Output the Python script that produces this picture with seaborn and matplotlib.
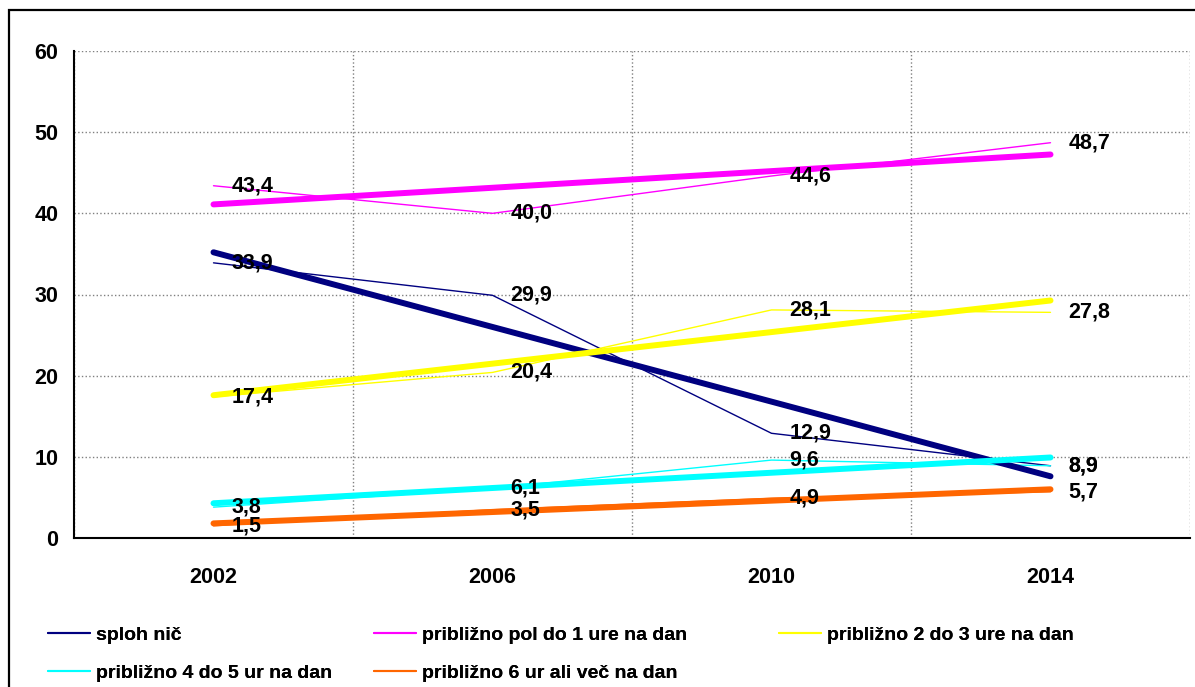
import numpy as np
import pandas as pd
import seaborn as sns
import matplotlib.pyplot as plt
from matplotlib.patches import Rectangle

years = ['2002', '2006', '2010', '2014']
series_names = [
  'sploh nič',
  'približno pol do 1 ure na dan',
  'približno 2 do 3 ure na dan',
  'približno 4 do 5 ur na dan',
  'približno 6 ur ali več na dan',
]
sploh_nic = [33.9, 29.9, 12.9, 8.9]
pol_do_1 = [43.4, 40.0, 44.6, 48.7]
od_2_do_3 = [17.4, 20.4, 28.1, 27.8]
od_4_do_5 = [3.8, 6.1, 9.6, 8.9]
vec_kot_6 = [1.5, 3.5, 4.9, 5.7]
colors = ['#000080', '#FF00FF', '#FFFF00', '#00FFFF', '#FF6600']

values = [sploh_nic, pol_do_1, od_2_do_3, od_4_do_5, vec_kot_6]
rows = []
for name, vals in zip(series_names, values):
  for i, v in enumerate(vals):
    rows.append({'pos': i, 'value': v, 'series': name})
df = pd.DataFrame(rows)

sns.set_style('white')
plt.rcParams['font.family'] = ['Liberation Sans', 'DejaVu Sans']
plt.rcParams['font.weight'] = 'bold'
plt.rcParams['text.color'] = 'black'
plt.rcParams['xtick.color'] = 'black'
plt.rcParams['ytick.color'] = 'black'

FS = 15.5      # axis ticks and data labels
FS_LEG = 14    # legend

fig = plt.figure(figsize=(11.95, 6.87), dpi=100)
ax = fig.add_axes([74 / 1195, 1 - 538 / 687, 1116 / 1195, 487 / 687])

###################
## thin data lines
###################
sns.lineplot(data=df, x='pos', y='value', hue='series', hue_order=series_names,
             palette=colors, linewidth=1.0, ax=ax, legend=True, zorder=3)
handles, labels = ax.get_legend_handles_labels()
ax.get_legend().remove()
for h in handles:
  h.set_linewidth(1.5)

###################
## linear trend lines
###################
for name, col in zip(series_names, colors):
  sub = df[df['series'] == name]
  sns.regplot(data=sub, x='pos', y='value', ax=ax, ci=None, scatter=False,
              truncate=True, line_kws={'color': col, 'linewidth': 4.3, 'zorder': 4})

###################
## data labels
###################
for name, vals in zip(series_names, values):
  for i, v in enumerate(vals):
    ax.annotate(f'{v:.1f}'.replace('.', ','), (i, v), xytext=(13, 0),
                textcoords='offset points', ha='left', va='center',
                fontsize=FS, fontweight='bold', zorder=6)

ax.set_xlim(-0.5, 3.5)
ax.set_ylim(0, 60)
ax.set_yticks(range(0, 61, 10))
ax.set_xticks(range(4))
ax.set_xticklabels(years)
ax.set_xticks(np.arange(-0.5, 3.6, 1), minor=True)
ax.tick_params(axis='x', which='major', length=0, pad=21, labelsize=FS)
ax.tick_params(axis='x', which='minor', length=4.3, width=1, color='black', direction='out')
ax.tick_params(axis='y', length=4.3, width=1, color='black', direction='out', labelsize=FS, pad=7)
ax.grid(False)
ax.grid(True, axis='y', which='major', color='#808080', linestyle=':', linewidth=1)
ax.grid(True, axis='x', which='minor', color='#808080', linestyle=':', linewidth=1)
for side in ['top', 'right']:
  ax.spines[side].set_visible(False)
for side in ['left', 'bottom']:
  ax.spines[side].set_color('black')
  ax.spines[side].set_linewidth(1.5)
ax.set_xlabel('')
ax.set_ylabel('')
for lbl in ax.get_xticklabels() + ax.get_yticklabels():
  lbl.set_fontweight('bold')

# legend laid out like Excel: three columns at fixed positions
legend_cols = [([0, 3], 48), ([1, 4], 374), ([2], 779)]
for idx, xpx in legend_cols:
  leg = fig.legend([handles[i] for i in idx], [labels[i] for i in idx],
                   loc='upper left', bbox_to_anchor=(xpx / 1195, 1 - 626 / 687),
                   ncol=1, frameon=False, borderpad=0, borderaxespad=0,
                   handlelength=2.15, handletextpad=0.3, labelspacing=1.06,
                   prop={'size': FS_LEG, 'weight': 'bold'})
  fig.add_artist(leg)

# chart border
fig.patches.append(Rectangle((9 / 1195, -0.1), 1.2, 1 - 10 / 687 + 0.1,
                             transform=fig.transFigure, fill=False,
                             edgecolor='black', linewidth=1.6))

plt.savefig('out.png', dpi=100)
plt.close()
